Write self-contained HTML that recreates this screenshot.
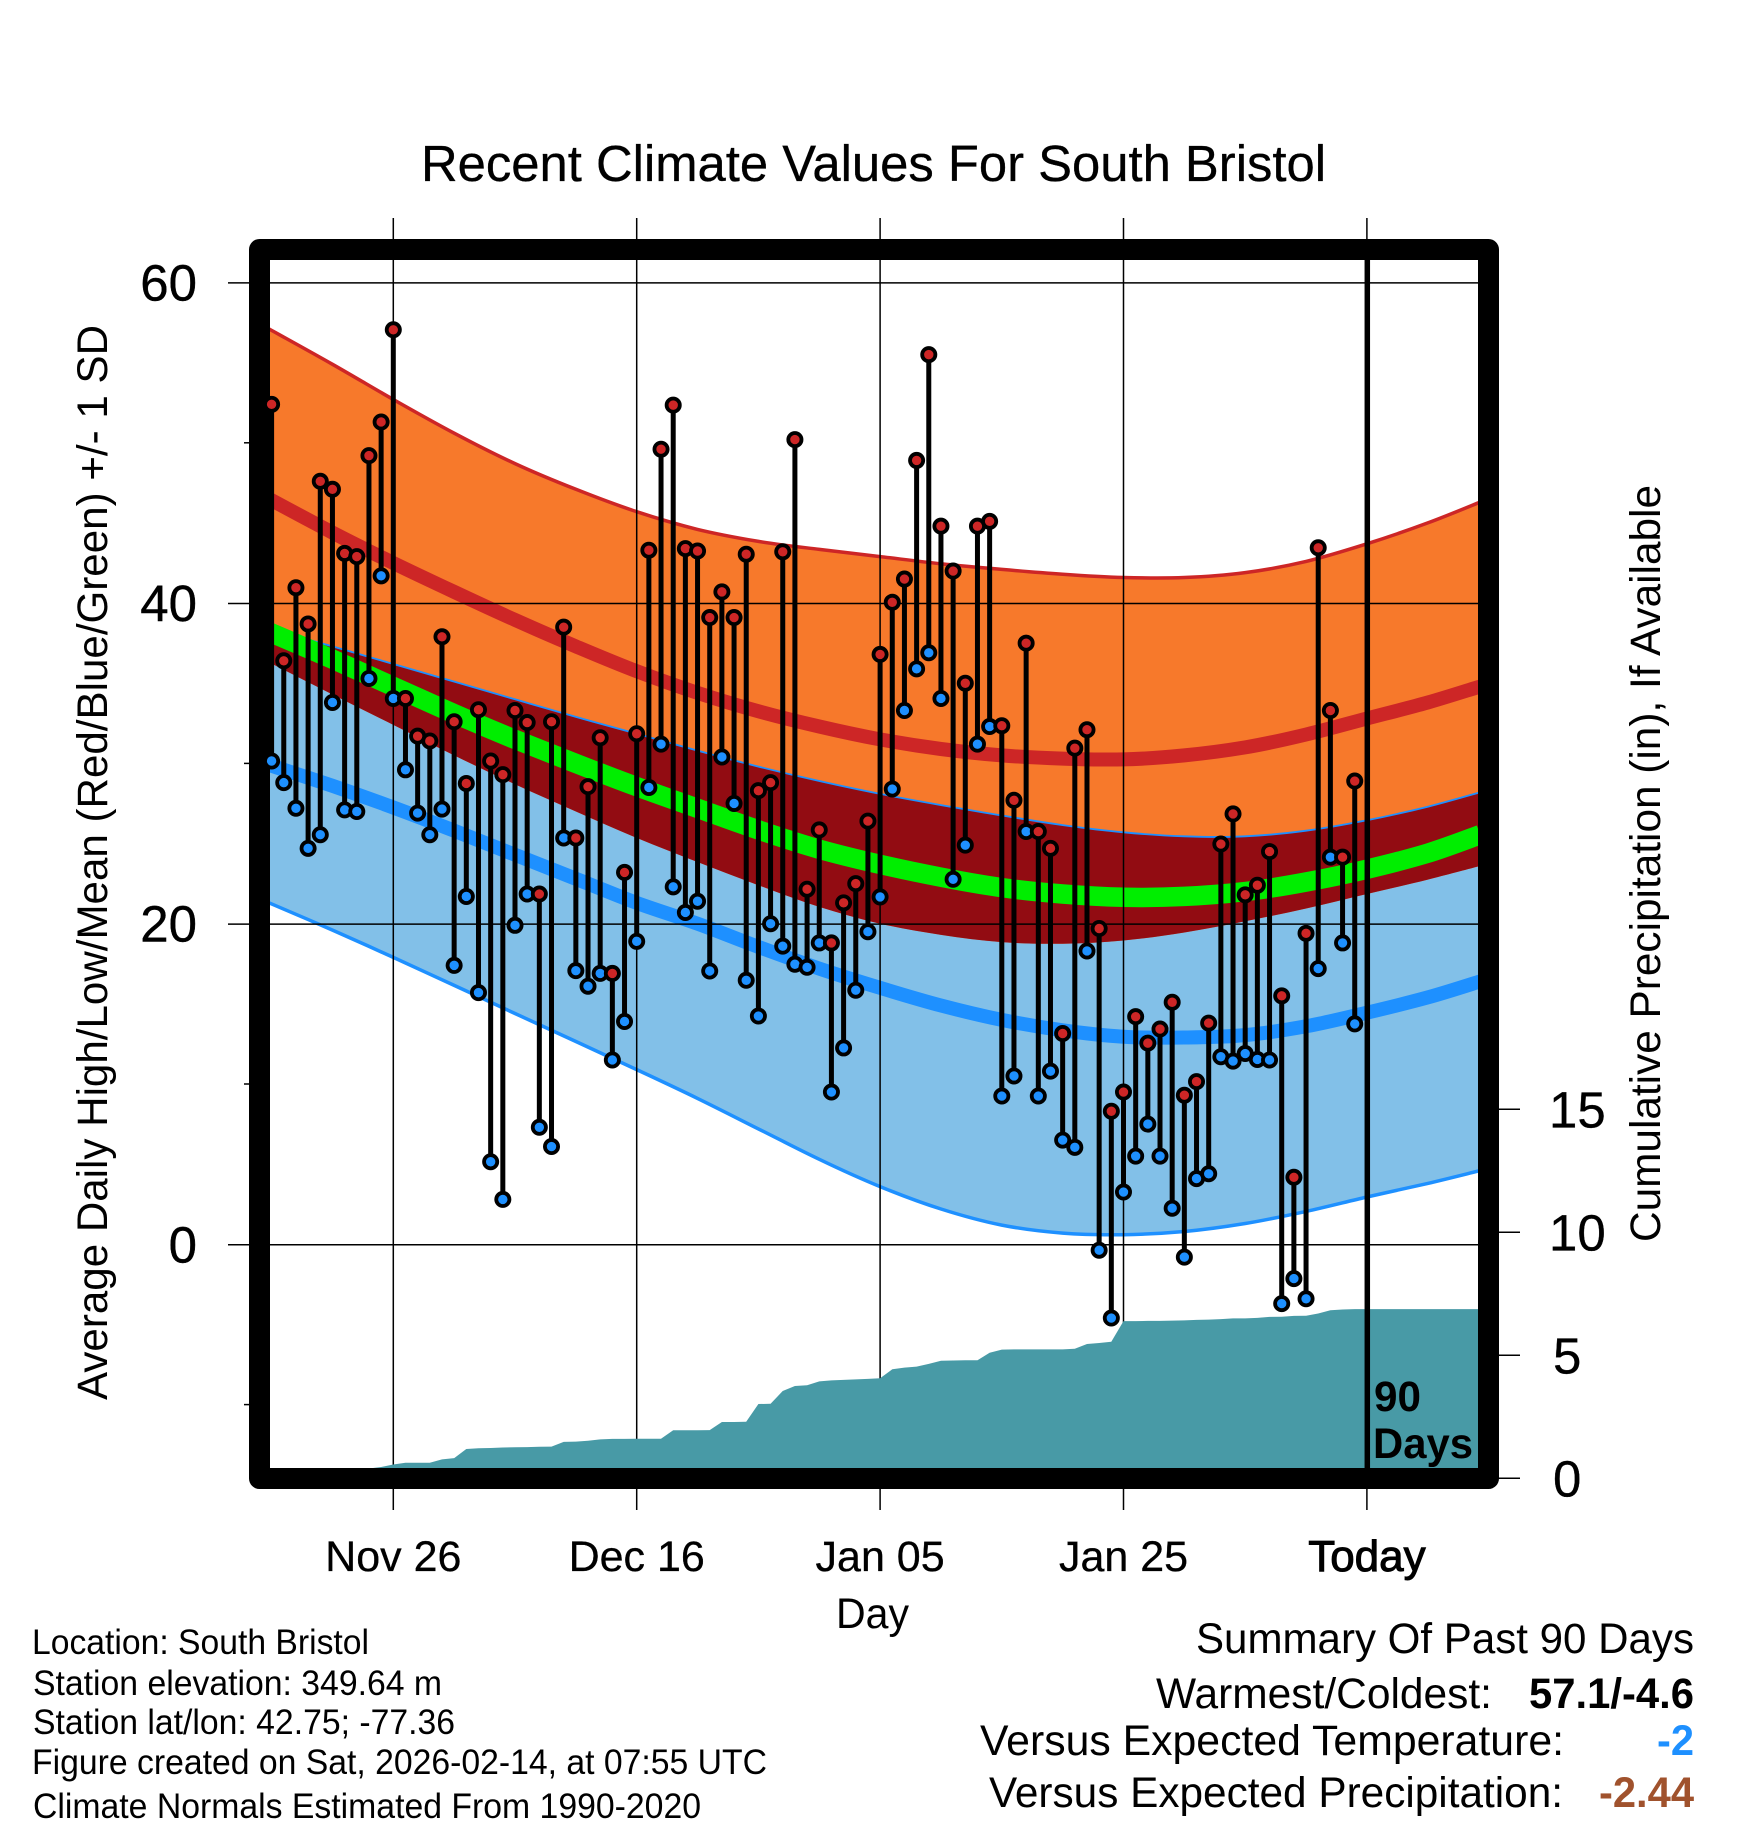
<!DOCTYPE html>
<html lang="en">
<head>
<meta charset="utf-8">
<title>Recent Climate Values For South Bristol</title>
<style>
html,body{margin:0;padding:0;background:#fff;}
svg{display:block;}
text{font-family:"Liberation Sans",sans-serif;fill:#000;}
</style>
</head>
<body>
<svg id="chart" xmlns="http://www.w3.org/2000/svg" width="1748" height="1828" viewBox="0 0 1748 1828">
  <rect x="0" y="0" width="1748" height="1828" fill="#fff"/>
  <defs><clipPath id="plot-clip"><rect x="270" y="260" width="1208" height="1208"/></clipPath></defs>
  <g id="bands" clip-path="url(#plot-clip)"></g>
  <g id="grid"></g>
  <g id="precip" clip-path="url(#plot-clip)"></g>
  <g id="ticks"></g>
  <rect x="259.5" y="249.5" width="1229" height="1229" fill="none" stroke="#000" stroke-width="21" stroke-linejoin="round"/>
  <g id="today"></g>
  <g id="marks"></g>
  <g id="labels"></g>

  <text x="421" y="181" font-size="51" stroke="#000" stroke-width="0.3" textLength="905" lengthAdjust="spacingAndGlyphs">Recent Climate Values For South Bristol</text>
  <text transform="translate(107,1400) rotate(-90)" font-size="43" textLength="1075" lengthAdjust="spacingAndGlyphs">Average Daily High/Low/Mean (Red/Blue/Green) +/- 1 SD</text>
  <text transform="translate(1660,1242) rotate(-90)" font-size="43" textLength="757" lengthAdjust="spacingAndGlyphs">Cumulative Precipitation (in), If Available</text>
  <text x="836" y="1628" font-size="43" textLength="73" lengthAdjust="spacingAndGlyphs">Day</text>
  <text x="1374" y="1411" font-size="43" font-weight="bold" textLength="47" lengthAdjust="spacingAndGlyphs">90</text>
  <text x="1373" y="1458" font-size="43" font-weight="bold" textLength="100" lengthAdjust="spacingAndGlyphs">Days</text>

  <g font-size="35">
    <text x="32" y="1654" textLength="337" lengthAdjust="spacingAndGlyphs">Location: South Bristol</text>
    <text x="33" y="1695" textLength="409" lengthAdjust="spacingAndGlyphs">Station elevation: 349.64 m</text>
    <text x="33" y="1734" textLength="422" lengthAdjust="spacingAndGlyphs">Station lat/lon: 42.75; -77.36</text>
    <text x="32" y="1774" textLength="735" lengthAdjust="spacingAndGlyphs">Figure created on Sat, 2026-02-14, at 07:55 UTC</text>
    <text x="33" y="1818" textLength="668" lengthAdjust="spacingAndGlyphs">Climate Normals Estimated From 1990-2020</text>
  </g>

  <g font-size="43">
    <text x="1196" y="1653" textLength="498" lengthAdjust="spacingAndGlyphs">Summary Of Past 90 Days</text>
    <text x="1156" y="1708" textLength="336" lengthAdjust="spacingAndGlyphs">Warmest/Coldest:</text>
    <text x="1529" y="1708" font-weight="bold" textLength="165" lengthAdjust="spacingAndGlyphs">57.1/-4.6</text>
    <text x="980" y="1755" textLength="584" lengthAdjust="spacingAndGlyphs">Versus Expected Temperature:</text>
    <text x="1657" y="1755" font-weight="bold" textLength="37" lengthAdjust="spacingAndGlyphs" style="fill:#1e90ff">-2</text>
    <text x="989" y="1807" textLength="574" lengthAdjust="spacingAndGlyphs">Versus Expected Precipitation:</text>
    <text x="1599" y="1807" font-weight="bold" textLength="95" lengthAdjust="spacingAndGlyphs" style="fill:#a0522d">-2.44</text>
  </g>
</svg>

<script>
// ---- Chart data ----
var tempTicks = [60, 40, 20, 0];
var tempMinorTicks = [50, 30, 10, -10];
var precipTicks = [0, 5, 10, 15];
var dayTicks = [10, 30, 50, 70, 90];
var dayTickLabels = ["Nov 26", "Dec 16", "Jan 05", "Jan 25", "Today"];
var todayDay = 90;

// Normal band knots (day index, degrees)
var bandDays = [-0.2, 5, 10, 15, 20, 25, 30, 35, 40, 45, 50, 55, 60, 65, 70, 75, 80, 85, 90, 95, 99.3];
var highPlusSD = [57.1, 54.9, 52.7, 50.6, 48.7, 47.1, 45.7, 44.6, 43.85, 43.35, 42.9, 42.45, 42.1, 41.8, 41.6, 41.6, 41.9, 42.6, 43.7, 45.0, 46.3];
var highMean = [46.5, 44.4, 42.5, 40.7, 38.95, 37.3, 35.75, 34.4, 33.25, 32.3, 31.5, 30.9, 30.5, 30.3, 30.25, 30.5, 31.0, 31.8, 32.8, 33.8, 34.8];
var highMinusSD = [36.3, 34.3, 32.4, 30.5, 28.7, 27.0, 25.35, 23.85, 22.4, 21.05, 20.0, 19.3, 18.85, 18.75, 18.95, 19.45, 20.15, 20.95, 21.85, 22.75, 23.6];
var meanLine = [38.2, 36.5, 34.8, 33.1, 31.5, 30.0, 28.55, 27.2, 25.85, 24.65, 23.7, 22.9, 22.25, 21.85, 21.65, 21.7, 22.0, 22.6, 23.4, 24.4, 25.55];
var lowPlusSD = [38.4, 37.3, 36.2, 35.1, 34.0, 32.9, 31.85, 30.8, 29.8, 28.9, 28.1, 27.4, 26.75, 26.15, 25.7, 25.45, 25.45, 25.8, 26.45, 27.3, 28.2];
var lowMean = [29.9, 28.6, 27.25, 25.8, 24.3, 22.8, 21.3, 20.0, 18.55, 17.2, 16.0, 14.9, 14.0, 13.35, 12.95, 12.9, 13.05, 13.6, 14.45, 15.4, 16.4];
var lowMinusSD = [21.3, 19.6, 17.9, 16.15, 14.4, 12.65, 10.9, 9.1, 7.2, 5.3, 3.6, 2.2, 1.2, 0.7, 0.6, 0.8, 1.3, 2.05, 2.95, 3.8, 4.6];

// Daily observed high / low, day 0 through day 89
var dailyHigh = [52.4,36.4,40.96,38.7,47.6,47.1,43.1,42.9,49.2,51.3,
  57.05,34.05,31.7,31.4,37.9,32.6,28.75,33.35,30.15,29.3,
  33.3,32.55,21.85,32.6,38.5,25.35,28.55,31.6,16.9,23.2,
  31.85,43.3,49.6,52.35,43.4,43.25,39.1,40.7,39.1,43.05,
  28.3,28.8,43.2,50.2,22.15,25.85,18.8,21.3,22.5,26.4,
  36.8,40.05,41.5,48.9,55.5,44.8,42.0,35.0,44.8,45.1,
  32.35,27.7,37.5,25.75,24.7,13.15,30.95,32.1,19.7,8.3,
  9.5,14.2,12.55,13.43,15.1,9.3,10.15,13.8,24.97,26.85,
  21.8,22.4,24.5,15.5,4.18,19.4,43.45,33.3,24.15,28.9];
var dailyLow = [30.15,28.8,27.2,24.7,25.55,33.8,27.1,27.0,35.3,41.7,
  34.05,29.6,26.9,25.55,27.15,17.4,21.7,15.7,5.15,2.8,
  19.9,21.85,7.3,6.1,25.35,17.07,16.1,16.9,11.5,13.9,
  18.9,28.5,31.2,22.3,20.7,21.4,17.05,30.4,27.5,16.47,
  14.24,20.0,18.6,17.47,17.28,18.8,9.5,12.25,15.85,19.5,
  21.67,28.4,33.3,35.9,36.9,34.05,22.77,24.9,31.2,32.3,
  9.25,10.5,25.75,9.25,10.8,6.5,6.05,18.3,-0.37,-4.6,
  3.26,5.5,7.5,5.5,2.25,-0.8,4.1,4.4,11.7,11.43,
  11.9,11.53,11.5,-3.7,-2.14,-3.4,17.2,24.15,18.8,13.75];

// Cumulative precipitation (inches), day 0 through day 100
var cumulativePrecip = [0,0,0,0,0,0,0,0,0.4,0.46,
  0.56,0.63,0.63,0.63,0.77,0.82,1.19,1.22,1.23,1.25,
  1.26,1.27,1.28,1.29,1.48,1.49,1.53,1.58,1.6,1.6,
  1.61,1.61,1.61,1.95,1.95,1.95,1.96,2.29,2.29,2.3,
  3.02,3.03,3.55,3.75,3.78,3.94,3.98,4.0,4.02,4.04,
  4.07,4.43,4.5,4.54,4.65,4.78,4.79,4.8,4.8,5.1,
  5.23,5.24,5.24,5.24,5.24,5.24,5.27,5.46,5.5,5.55,
  6.39,6.39,6.4,6.4,6.41,6.42,6.44,6.45,6.47,6.5,
  6.5,6.52,6.56,6.57,6.6,6.61,6.7,6.83,6.86,6.88,
  6.88,6.88,6.88,6.88,6.88,6.88,6.88,6.88,6.88,6.88,6.88];

// ---- Axis functions ----
var SVGNS = "http://www.w3.org/2000/svg";
function xDay(d){ return 271.6 + 12.17 * d; }
function yTemp(v){ return 1244.3 - 16.03 * v; }
function yPrecip(v){ return 1478.3 - 24.6 * v; }

function make(tag, attrs, parent){
  var el = document.createElementNS(SVGNS, tag);
  for (var k in attrs) el.setAttribute(k, attrs[k]);
  parent.appendChild(el);
  return el;
}
function smoothSegs(pts, move){
  var s = move ? "M" + pts[0][0].toFixed(1) + " " + pts[0][1].toFixed(1) : "L" + pts[0][0].toFixed(1) + " " + pts[0][1].toFixed(1);
  for (var i = 0; i < pts.length - 1; i++){
    var p0 = pts[Math.max(i-1,0)], p1 = pts[i], p2 = pts[i+1], p3 = pts[Math.min(i+2,pts.length-1)];
    var c1x = p1[0] + (p2[0]-p0[0])/6, c1y = p1[1] + (p2[1]-p0[1])/6;
    var c2x = p2[0] - (p3[0]-p1[0])/6, c2y = p2[1] - (p3[1]-p1[1])/6;
    s += "C" + c1x.toFixed(1) + " " + c1y.toFixed(1) + " " + c2x.toFixed(1) + " " + c2y.toFixed(1) + " " + p2[0].toFixed(1) + " " + p2[1].toFixed(1);
  }
  return s;
}
function curvePts(vals){
  return bandDays.map(function(d,i){ return [xDay(d), yTemp(vals[i])]; });
}
function bandPath(upper, lower){
  return smoothSegs(curvePts(upper), true) + smoothSegs(curvePts(lower).reverse(), false) + "Z";
}

// ---- Bands ----
var gBands = document.getElementById("bands");
var lowBand = make("path", {d: bandPath(lowPlusSD, lowMinusSD), fill: "#82c0e8"}, gBands);


var highBand = make("path", {d: bandPath(highPlusSD, highMinusSD), fill: "#f7792b"}, gBands);


var overlapBand = make("path", {d: bandPath(lowPlusSD, highMinusSD), fill: "#920c12"}, gBands);



var lineHighPlus = make("path", {d: smoothSegs(curvePts(highPlusSD), true), fill: "none", stroke: "#cd2626", "stroke-width": 3.5}, gBands);


var lineLowPlus = make("path", {d: smoothSegs(curvePts(lowPlusSD), true), fill: "none", stroke: "#1e90ff", "stroke-width": 1.8}, gBands);


var lineLowMinus = make("path", {d: smoothSegs(curvePts(lowMinusSD), true), fill: "none", stroke: "#1e90ff", "stroke-width": 3.5}, gBands);


var lineHighMean = make("path", {d: smoothSegs(curvePts(highMean), true), fill: "none", stroke: "#cd2626", "stroke-width": 14}, gBands);


var lineLowMean = make("path", {d: smoothSegs(curvePts(lowMean), true), fill: "none", stroke: "#1e90ff", "stroke-width": 14}, gBands);


var lineMean = make("path", {d: smoothSegs(curvePts(meanLine), true), fill: "none", stroke: "#00ee00", "stroke-width": 19.5}, gBands);



// ---- Grid + ticks ----
var gGrid = document.getElementById("grid");
var gTicks = document.getElementById("ticks");
var gLabels = document.getElementById("labels");
tempTicks.forEach(function(v){
  var gl = make("line", {x1: 228, x2: 1478, y1: yTemp(v) + 0.4, y2: yTemp(v) + 0.4, stroke: "#000", "stroke-width": 1.5}, gGrid);
  
  
  var tl = make("text", {x: 197, y: yTemp(v) + 18, "text-anchor": "end", "font-size": 51, stroke: "#000", "stroke-width": 0.4}, gLabels);
  tl.textContent = String(v);
  
  
});
tempMinorTicks.forEach(function(v){
  var t = make("line", {x1: 244, x2: 250, y1: yTemp(v), y2: yTemp(v), stroke: "#000", "stroke-width": 1.5}, gTicks);
  
  
});
precipTicks.forEach(function(v){
  var t = make("line", {x1: 1498, x2: 1520, y1: yPrecip(v), y2: yPrecip(v), stroke: "#000", "stroke-width": 1.5}, gTicks);
  
  
  var s = String(v);
  var tl = make("text", {x: s.length > 1 ? 1549 : 1553, y: yPrecip(v) + 18, "font-size": 51, stroke: "#000", "stroke-width": 0.3}, gLabels);
  tl.textContent = s;
  
  
});
dayTicks.forEach(function(d, i){
  var gl = make("line", {x1: xDay(d), x2: xDay(d), y1: 218, y2: 1510, stroke: "#000", "stroke-width": 1.5}, gGrid);
  
  
  var isToday = d === todayDay;
  var tl = make("text", {x: xDay(d), y: 1571, "text-anchor": "middle", "font-size": isToday ? 44 : 43, stroke: "#000", "stroke-width": isToday ? 1 : 0.3}, gLabels);
  tl.textContent = dayTickLabels[i];
  
  
});

// ---- Precipitation area ----
var precipPath = "M" + xDay(0) + " 1480";
cumulativePrecip.forEach(function(v, i){
  precipPath += "L" + xDay(i).toFixed(1) + " " + yPrecip(v).toFixed(1);
});
precipPath += "L" + xDay(cumulativePrecip.length - 1).toFixed(1) + " 1480Z";
var area = make("path", {d: precipPath, fill: "#489aa6"}, document.getElementById("precip"));



// ---- Today marker ----
var todayLine = make("line", {x1: xDay(todayDay) + 0.4, x2: xDay(todayDay) + 0.4, y1: 260, y2: 1468, stroke: "#000", "stroke-width": 5.5}, document.getElementById("today"));



// ---- Daily high/low marks ----
var gMarks = document.getElementById("marks");
dailyHigh.forEach(function(h, d){
  var bar = make("line", {x1: xDay(d), x2: xDay(d), y1: yTemp(h), y2: yTemp(dailyLow[d]), stroke: "#000", "stroke-width": 5}, gMarks);
  
  
});
dailyHigh.forEach(function(h, d){
  var hi = make("circle", {cx: xDay(d), cy: yTemp(h), r: 6.6, fill: "#cd2626", stroke: "#000", "stroke-width": 3.8}, gMarks);
  
  
  var lo = make("circle", {cx: xDay(d), cy: yTemp(dailyLow[d]), r: 6.6, fill: "#1e90ff", stroke: "#000", "stroke-width": 3.8}, gMarks);
  
  
});
</script>
</body>
</html>
